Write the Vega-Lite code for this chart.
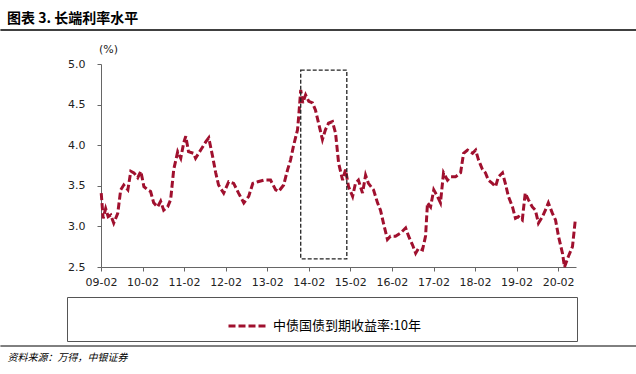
{
  "$schema": "https://vega.github.io/schema/vega-lite/v6.json",
  "width": 475,
  "height": 203,
  "autosize": {"type": "none"},
  "padding": {"left": 101, "top": 64, "right": 60, "bottom": 107},
  "background": "white",
  "config": {"view": {"stroke": null}},
  "title": {
    "text": "图表 3. 长端利率水平",
    "anchor": "start",
    "frame": "group",
    "dx": -94,
    "dy": 7,
    "offset": 10,
    "font": "Noto Sans CJK SC",
    "fontSize": 14,
    "fontWeight": "bold",
    "color": "#000"
  },
  "layer": [
    {
      "data": {"values": [
        {"date": "2009-02-03", "value": 3.41, "series": "中债国债到期收益率:10年"},
        {"date": "2009-02-20", "value": 3.10, "series": "中债国债到期收益率:10年"},
        {"date": "2009-03-14", "value": 3.22, "series": "中债国债到期收益率:10年"},
        {"date": "2009-04-05", "value": 3.12, "series": "中债国债到期收益率:10年"},
        {"date": "2009-04-28", "value": 3.14, "series": "中债国债到期收益率:10年"},
        {"date": "2009-05-24", "value": 3.04, "series": "中债国债到期收益率:10年"},
        {"date": "2009-06-28", "value": 3.16, "series": "中债国债到期收益率:10年"},
        {"date": "2009-07-24", "value": 3.45, "series": "中债国债到期收益率:10年"},
        {"date": "2009-08-20", "value": 3.51, "series": "中债国债到期收益率:10年"},
        {"date": "2009-09-25", "value": 3.45, "series": "中债国债到期收益率:10年"},
        {"date": "2009-10-21", "value": 3.68, "series": "中债国债到期收益率:10年"},
        {"date": "2009-11-17", "value": 3.66, "series": "中债国债到期收益率:10年"},
        {"date": "2009-12-21", "value": 3.60, "series": "中债国债到期收益率:10年"},
        {"date": "2010-01-17", "value": 3.68, "series": "中债国债到期收益率:10年"},
        {"date": "2010-02-13", "value": 3.49, "series": "中债国债到期收益率:10年"},
        {"date": "2010-03-18", "value": 3.45, "series": "中债国债到期收益率:10年"},
        {"date": "2010-04-13", "value": 3.43, "series": "中债国债到期收益率:10年"},
        {"date": "2010-05-10", "value": 3.29, "series": "中债国债到期收益率:10年"},
        {"date": "2010-06-13", "value": 3.24, "series": "中债国债到期收益率:10年"},
        {"date": "2010-07-10", "value": 3.31, "series": "中债国债到期收益率:10年"},
        {"date": "2010-08-06", "value": 3.20, "series": "中债国债到期收益率:10年"},
        {"date": "2010-09-10", "value": 3.24, "series": "中债国债到期收益率:10年"},
        {"date": "2010-10-06", "value": 3.33, "series": "中债国债到期收益率:10年"},
        {"date": "2010-11-02", "value": 3.70, "series": "中债国债到期收益率:10年"},
        {"date": "2010-12-07", "value": 3.92, "series": "中债国债到期收益率:10年"},
        {"date": "2011-01-03", "value": 3.84, "series": "中债国债到期收益率:10年"},
        {"date": "2011-01-29", "value": 4.03, "series": "中债国债到期收益率:10年"},
        {"date": "2011-02-16", "value": 4.11, "series": "中债国债到期收益率:10年"},
        {"date": "2011-03-12", "value": 3.92, "series": "中债国债到期收益率:10年"},
        {"date": "2011-04-25", "value": 3.90, "series": "中债国债到期收益率:10年"},
        {"date": "2011-05-13", "value": 3.84, "series": "中债国债到期收益率:10年"},
        {"date": "2011-06-27", "value": 3.94, "series": "中债国债到期收益率:10年"},
        {"date": "2011-08-10", "value": 4.04, "series": "中债国债到期收益率:10年"},
        {"date": "2011-09-06", "value": 4.09, "series": "中债国债到期收益率:10年"},
        {"date": "2011-10-10", "value": 3.86, "series": "中债国债到期收益率:10年"},
        {"date": "2011-11-06", "value": 3.66, "series": "中债国债到期收益率:10年"},
        {"date": "2011-12-01", "value": 3.51, "series": "中债国债到期收益率:10年"},
        {"date": "2012-01-15", "value": 3.41, "series": "中债国债到期收益率:10年"},
        {"date": "2012-02-28", "value": 3.55, "series": "中债国债到期收益率:10年"},
        {"date": "2012-04-12", "value": 3.53, "series": "中债国债到期收益率:10年"},
        {"date": "2012-05-25", "value": 3.41, "series": "中债国债到期收益率:10年"},
        {"date": "2012-07-10", "value": 3.29, "series": "中债国债到期收益率:10年"},
        {"date": "2012-08-22", "value": 3.37, "series": "中债国债到期收益率:10年"},
        {"date": "2012-09-27", "value": 3.53, "series": "中债国债到期收益率:10年"},
        {"date": "2012-11-10", "value": 3.55, "series": "中债国债到期收益率:10年"},
        {"date": "2013-01-01", "value": 3.57, "series": "中债国债到期收益率:10年"},
        {"date": "2013-03-02", "value": 3.57, "series": "中债国债到期收益率:10年"},
        {"date": "2013-04-16", "value": 3.45, "series": "中债国债到期收益率:10年"},
        {"date": "2013-05-12", "value": 3.43, "series": "中债国债到期收益率:10年"},
        {"date": "2013-06-25", "value": 3.51, "series": "中债国债到期收益率:10年"},
        {"date": "2013-07-30", "value": 3.70, "series": "中债国债到期收益率:10年"},
        {"date": "2013-08-25", "value": 3.82, "series": "中债国债到期收益率:10年"},
        {"date": "2013-09-21", "value": 4.00, "series": "中债国债到期收益率:10年"},
        {"date": "2013-10-25", "value": 4.19, "series": "中债国债到期收益率:10年"},
        {"date": "2013-11-04", "value": 4.35, "series": "中债国债到期收益率:10年"},
        {"date": "2013-11-22", "value": 4.68, "series": "中债国债到期收益率:10年"},
        {"date": "2013-12-10", "value": 4.52, "series": "中债国债到期收益率:10年"},
        {"date": "2014-01-04", "value": 4.62, "series": "中债国债到期收益率:10年"},
        {"date": "2014-02-01", "value": 4.54, "series": "中债国债到期收益率:10年"},
        {"date": "2014-03-06", "value": 4.52, "series": "中债国债到期收益率:10年"},
        {"date": "2014-04-01", "value": 4.43, "series": "中债国债到期收益率:10年"},
        {"date": "2014-04-28", "value": 4.27, "series": "中债国债到期收益率:10年"},
        {"date": "2014-06-01", "value": 4.07, "series": "中债国债到期收益率:10年"},
        {"date": "2014-06-27", "value": 4.19, "series": "中债国债到期收益率:10年"},
        {"date": "2014-07-24", "value": 4.27, "series": "中债国债到期收益率:10年"},
        {"date": "2014-08-28", "value": 4.29, "series": "中债国债到期收益率:10年"},
        {"date": "2014-09-24", "value": 4.15, "series": "中债国债到期收益率:10年"},
        {"date": "2014-10-21", "value": 3.78, "series": "中债国债到期收益率:10年"},
        {"date": "2014-11-25", "value": 3.57, "series": "中债国债到期收益率:10年"},
        {"date": "2014-12-21", "value": 3.70, "series": "中债国债到期收益率:10年"},
        {"date": "2015-01-16", "value": 3.49, "series": "中债国债到期收益率:10年"},
        {"date": "2015-02-21", "value": 3.37, "series": "中债国债到期收益率:10年"},
        {"date": "2015-03-18", "value": 3.53, "series": "中债国债到期收益率:10年"},
        {"date": "2015-04-13", "value": 3.57, "series": "中债国债到期收益率:10年"},
        {"date": "2015-05-19", "value": 3.41, "series": "中债国债到期收益率:10年"},
        {"date": "2015-06-15", "value": 3.63, "series": "中债国债到期收益率:10年"},
        {"date": "2015-07-10", "value": 3.53, "series": "中债国债到期收益率:10年"},
        {"date": "2015-08-24", "value": 3.45, "series": "中债国债到期收益率:10年"},
        {"date": "2015-09-28", "value": 3.29, "series": "中债国债到期收益率:10年"},
        {"date": "2015-10-24", "value": 3.20, "series": "中债国债到期收益率:10年"},
        {"date": "2015-11-19", "value": 3.04, "series": "中债国债到期收益率:10年"},
        {"date": "2015-12-24", "value": 2.84, "series": "中债国债到期收益率:10年"},
        {"date": "2016-01-20", "value": 2.88, "series": "中债国债到期收益率:10年"},
        {"date": "2016-03-04", "value": 2.88, "series": "中债国债到期收益率:10年"},
        {"date": "2016-04-18", "value": 2.92, "series": "中债国债到期收益率:10年"},
        {"date": "2016-06-01", "value": 2.98, "series": "中债国债到期收益率:10年"},
        {"date": "2016-06-27", "value": 2.88, "series": "中债国债到期收益率:10年"},
        {"date": "2016-08-01", "value": 2.77, "series": "中债国债到期收益率:10年"},
        {"date": "2016-08-28", "value": 2.67, "series": "中债国债到期收益率:10年"},
        {"date": "2016-09-22", "value": 2.73, "series": "中债国债到期收益率:10年"},
        {"date": "2016-10-27", "value": 2.71, "series": "中债国债到期收益率:10年"},
        {"date": "2016-11-23", "value": 2.88, "series": "中债国债到期收益率:10年"},
        {"date": "2016-12-10", "value": 3.29, "series": "中债国债到期收益率:10年"},
        {"date": "2017-01-06", "value": 3.24, "series": "中债国债到期收益率:10年"},
        {"date": "2017-02-03", "value": 3.45, "series": "中债国债到期收益率:10年"},
        {"date": "2017-03-07", "value": 3.37, "series": "中债国债到期收益率:10年"},
        {"date": "2017-04-03", "value": 3.29, "series": "中债国债到期收益率:10年"},
        {"date": "2017-04-30", "value": 3.66, "series": "中债国债到期收益率:10年"},
        {"date": "2017-06-04", "value": 3.57, "series": "中债国债到期收益率:10年"},
        {"date": "2017-07-01", "value": 3.61, "series": "中债国债到期收益率:10年"},
        {"date": "2017-08-13", "value": 3.61, "series": "中债国债到期收益率:10年"},
        {"date": "2017-09-27", "value": 3.66, "series": "中债国债到期收益率:10年"},
        {"date": "2017-10-23", "value": 3.90, "series": "中债国债到期收益率:10年"},
        {"date": "2017-11-27", "value": 3.94, "series": "中债国债到期收益率:10年"},
        {"date": "2018-01-10", "value": 3.90, "series": "中债国债到期收益率:10年"},
        {"date": "2018-02-06", "value": 3.94, "series": "中债国债到期收益率:10年"},
        {"date": "2018-03-03", "value": 3.82, "series": "中债国债到期收益率:10年"},
        {"date": "2018-04-07", "value": 3.70, "series": "中债国债到期收益率:10年"},
        {"date": "2018-05-03", "value": 3.66, "series": "中债国债到期收益率:10年"},
        {"date": "2018-05-29", "value": 3.57, "series": "中债国债到期收益率:10年"},
        {"date": "2018-07-03", "value": 3.53, "series": "中债国债到期收益率:10年"},
        {"date": "2018-07-31", "value": 3.49, "series": "中债国债到期收益率:10年"},
        {"date": "2018-08-25", "value": 3.61, "series": "中债国债到期收益率:10年"},
        {"date": "2018-09-30", "value": 3.66, "series": "中债国债到期收益率:10年"},
        {"date": "2018-10-25", "value": 3.53, "series": "中债国债到期收益率:10年"},
        {"date": "2018-11-21", "value": 3.37, "series": "中债国债到期收益率:10年"},
        {"date": "2018-12-27", "value": 3.24, "series": "中债国债到期收益率:10年"},
        {"date": "2019-01-22", "value": 3.10, "series": "中债国债到期收益率:10年"},
        {"date": "2019-02-18", "value": 3.12, "series": "中债国债到期收益率:10年"},
        {"date": "2019-03-23", "value": 3.08, "series": "中债国债到期收益率:10年"},
        {"date": "2019-04-18", "value": 3.41, "series": "中债国债到期收益率:10年"},
        {"date": "2019-05-15", "value": 3.33, "series": "中债国债到期收益率:10年"},
        {"date": "2019-06-19", "value": 3.24, "series": "中债国债到期收益率:10年"},
        {"date": "2019-07-16", "value": 3.20, "series": "中债国债到期收益率:10年"},
        {"date": "2019-08-12", "value": 3.04, "series": "中债国债到期收益率:10年"},
        {"date": "2019-09-16", "value": 3.12, "series": "中债国债到期收益率:10年"},
        {"date": "2019-10-12", "value": 3.20, "series": "中债国债到期收益率:10年"},
        {"date": "2019-11-07", "value": 3.29, "series": "中债国债到期收益率:10年"},
        {"date": "2019-12-13", "value": 3.16, "series": "中债国债到期收益率:10年"},
        {"date": "2020-01-09", "value": 3.08, "series": "中债国债到期收益率:10年"},
        {"date": "2020-02-04", "value": 2.88, "series": "中债国债到期收益率:10年"},
        {"date": "2020-03-10", "value": 2.67, "series": "中债国债到期收益率:10年"},
        {"date": "2020-03-28", "value": 2.50, "series": "中债国债到期收益率:10年"},
        {"date": "2020-05-01", "value": 2.63, "series": "中债国债到期收益率:10年"},
        {"date": "2020-06-06", "value": 2.75, "series": "中债国债到期收益率:10年"},
        {"date": "2020-07-01", "value": 3.08, "series": "中债国债到期收益率:10年"}
      ]},
      "mark": {"type": "line", "strokeWidth": 3, "strokeDash": [7, 3]},
      "encoding": {
        "x": {
          "field": "date",
          "type": "temporal",
          "scale": {
            "type": "utc",
            "domain": [
              {"year": 2009, "month": 2, "date": 1, "utc": true},
              {"year": 2020, "month": 7, "date": 7, "utc": true}
            ]
          },
          "axis": {
            "values": [
              {"year": 2009, "month": 2, "date": 1, "utc": true},
              {"year": 2010, "month": 2, "date": 1, "utc": true},
              {"year": 2011, "month": 2, "date": 1, "utc": true},
              {"year": 2012, "month": 2, "date": 1, "utc": true},
              {"year": 2013, "month": 2, "date": 1, "utc": true},
              {"year": 2014, "month": 2, "date": 1, "utc": true},
              {"year": 2015, "month": 2, "date": 1, "utc": true},
              {"year": 2016, "month": 2, "date": 1, "utc": true},
              {"year": 2017, "month": 2, "date": 1, "utc": true},
              {"year": 2018, "month": 2, "date": 1, "utc": true},
              {"year": 2019, "month": 2, "date": 1, "utc": true},
              {"year": 2020, "month": 2, "date": 1, "utc": true}
            ],
            "labelExpr": "utcFormat(datum.value, '%y-%m')",
            "grid": false,
            "domainColor": "#666",
            "tickColor": "#666",
            "tickSize": 4,
            "labelPadding": 5,
            "labelFont": "DejaVu Sans",
            "labelFontSize": 11,
            "labelColor": "#222",
            "labelFlush": false,
            "labelOverlap": false,
            "title": "资料来源：万得，中银证券",
            "titleX": -94,
            "titleY": 90,
            "titleAlign": "left",
            "titleBaseline": "middle",
            "titleFont": "Noto Sans CJK SC",
            "titleFontSize": 10,
            "titleFontStyle": "italic",
            "titleFontWeight": "normal",
            "titleColor": "#000"
          }
        },
        "y": {
          "field": "value",
          "type": "quantitative",
          "scale": {"domain": [2.5, 5.0], "nice": false, "zero": false},
          "axis": {
            "values": [2.5, 3.0, 3.5, 4.0, 4.5, 5.0],
            "format": ".1f",
            "grid": false,
            "domainColor": "#666",
            "tickColor": "#666",
            "tickSize": 4,
            "labelPadding": 12,
            "labelFont": "DejaVu Sans",
            "labelFontSize": 11,
            "labelColor": "#222",
            "title": "(%)",
            "titleAngle": 0,
            "titleX": 7,
            "titleY": -15,
            "titleAlign": "center",
            "titleBaseline": "middle",
            "titleFont": "DejaVu Sans",
            "titleFontSize": 11,
            "titleFontWeight": "normal",
            "titleColor": "#222"
          }
        },
        "color": {
          "field": "series",
          "type": "nominal",
          "scale": {
            "domain": ["中债国债到期收益率:10年", "_pad"],
            "range": ["#a0102e", "rgba(0,0,0,0)"]
          },
          "legend": {
            "orient": "none",
            "legendX": -34,
            "legendY": 233,
            "columns": 2,
            "columnPadding": 95,
            "title": "\u3000",
            "titleOrient": "left",
            "titlePadding": 152,
            "titleFont": "Noto Sans CJK SC",
            "titleFontSize": 13,
            "labelFont": "Noto Sans CJK SC",
            "labelFontSize": 13,
            "labelColor": "#000",
            "labelLimit": 600,
            "labelOffset": 4,
            "labelExpr": "datum.value == '_pad' ? '' : datum.label",
            "symbolType": "stroke",
            "symbolSize": 1521,
            "symbolStrokeWidth": 3,
            "symbolDash": [7, 3],
            "strokeColor": "#555",
            "padding": 8
          }
        }
      }
    },
    {
      "data": {"values": [{}]},
      "mark": {"type": "rect", "fill": null, "stroke": "#222", "strokeWidth": 1.3, "strokeDash": [4, 2]},
      "encoding": {
        "x": {"datum": {"year": 2013, "month": 11, "date": 22, "utc": true}, "type": "temporal"},
        "x2": {"datum": {"year": 2015, "month": 1, "date": 1, "utc": true}},
        "y": {"datum": 2.6, "type": "quantitative"},
        "y2": {"datum": 4.925}
      }
    },
    {
      "data": {"values": [{}]},
      "mark": {"type": "rule", "color": "#000", "strokeWidth": 1.5},
      "encoding": {
        "x": {"datum": {"year": 2006, "month": 9, "date": 1, "utc": true}, "type": "temporal"},
        "x2": {"datum": {"year": 2021, "month": 12, "date": 31, "utc": true}},
        "y": {"datum": 5.42, "type": "quantitative"}
      }
    },
    {
      "data": {"values": [{}]},
      "mark": {"type": "rule", "color": "#000", "strokeWidth": 1},
      "encoding": {
        "x": {"datum": {"year": 2006, "month": 9, "date": 1, "utc": true}, "type": "temporal"},
        "x2": {"datum": {"year": 2021, "month": 12, "date": 31, "utc": true}},
        "y": {"datum": 1.527, "type": "quantitative"}
      }
    }
  ]
}
